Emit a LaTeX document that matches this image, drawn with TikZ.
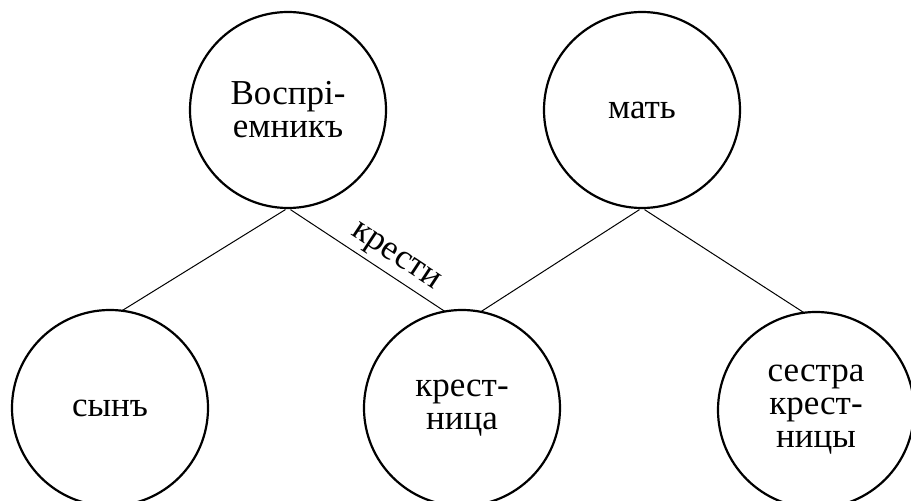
\documentclass[tikz,border=0pt]{standalone}
\usepackage{fontspec}
\setmainfont{Liberation Serif}
\begin{document}
\begin{tikzpicture}[x=1pt,y=1pt,
  person/.style={circle,draw,line width=2.2pt,minimum size=196pt,inner sep=0pt,outer sep=0pt,
    align=center,font=\fontsize{35}{33}\selectfont},
  link/.style={line width=1pt}]
\useasboundingbox (0,0) rectangle (911,501);
\node[person] (A) at (288,391) {Воспрі-\\емникъ};
\node[person] (B) at (642,391) {мать};
\node[person] (C) at (110,93) {сынъ};
\node[person] (D) at (462,93) {крест-\\ница};
\node[person] (E) at (816,91) {сестра\\крест-\\ницы};
\draw[link,shorten <=3pt] (A.south) -- (C.83);
\draw[link,shorten <=3pt] (A.south) -- node[pos=0.62,sloped,above=1pt,font=\fontsize{35}{33}\selectfont]{крести} (D.100);
\draw[link,shorten <=3pt] (B.south) -- (D.79);
\draw[link,shorten <=3pt] (B.south) -- (E.97);
\end{tikzpicture}
\end{document}
